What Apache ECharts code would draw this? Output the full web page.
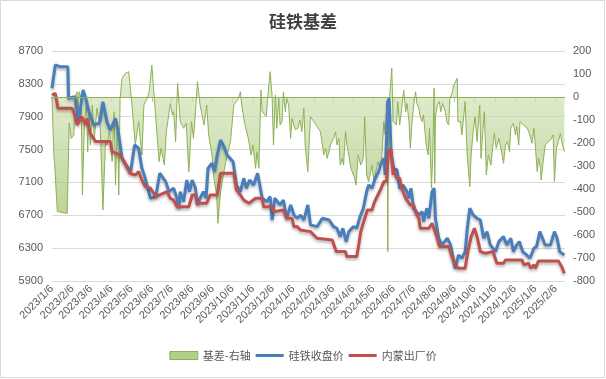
<!DOCTYPE html>
<html><head><meta charset="utf-8">
<script src="https://cdn.jsdelivr.net/npm/echarts@6/dist/echarts.min.js"></script>
<style>html,body{margin:0;padding:0;background:#fff}#c{width:606px;height:379px}</style>
</head><body><div id="c"></div>
<script>
// ---- data ----
const monthTicks = ['2023-01-06','2023-02-06','2023-03-06','2023-04-06','2023-05-06','2023-06-06','2023-07-06','2023-08-06','2023-09-06','2023-10-06','2023-11-06','2023-12-06','2024-01-06','2024-02-06','2024-03-06','2024-04-06','2024-05-06','2024-06-06','2024-07-06','2024-08-06','2024-09-06','2024-10-06','2024-11-06','2024-12-06','2025-01-06','2025-02-06'];

const closeDates = ['2023-01-06','2023-01-11','2023-01-18','2023-01-30','2023-01-31','2023-02-10','2023-02-15','2023-02-22','2023-02-26','2023-03-03','2023-03-10','2023-03-18','2023-03-20','2023-03-24','2023-03-30','2023-04-04','2023-04-12','2023-04-17','2023-04-22','2023-04-28','2023-05-05','2023-05-11','2023-05-17','2023-05-22','2023-05-27','2023-06-04','2023-06-12','2023-06-18','2023-06-27','2023-07-02','2023-07-09','2023-07-14','2023-07-17','2023-07-19','2023-07-24','2023-07-29','2023-08-02','2023-08-06','2023-08-11','2023-08-14','2023-08-18','2023-08-23','2023-08-27','2023-08-30','2023-09-05','2023-09-09','2023-09-13','2023-09-18','2023-09-23','2023-09-28','2023-10-07','2023-10-12','2023-10-18','2023-10-23','2023-10-27','2023-11-01','2023-11-07','2023-11-13','2023-11-20','2023-11-27','2023-12-02','2023-12-05','2023-12-09','2023-12-17','2023-12-22','2023-12-27','2024-01-02','2024-01-07','2024-01-12','2024-01-17','2024-01-22','2024-01-28','2024-02-01','2024-02-11','2024-02-19','2024-02-29','2024-03-07','2024-03-12','2024-03-17','2024-03-21','2024-03-26','2024-03-30','2024-04-06','2024-04-11','2024-04-16','2024-04-21','2024-04-26','2024-04-29','2024-05-04','2024-05-09','2024-05-14','2024-05-17','2024-05-22','2024-05-24','2024-05-28','2024-05-30','2024-06-02','2024-06-06','2024-06-11','2024-06-15','2024-06-20','2024-06-26','2024-06-29','2024-07-02','2024-07-06','2024-07-14','2024-07-19','2024-07-21','2024-07-26','2024-07-29','2024-08-03','2024-08-06','2024-08-08','2024-08-13','2024-08-18','2024-08-26','2024-08-31','2024-09-04','2024-09-07','2024-09-12','2024-09-17','2024-09-22','2024-09-25','2024-09-29','2024-10-04','2024-10-10','2024-10-15','2024-10-20','2024-10-25','2024-10-30','2024-11-07','2024-11-12','2024-11-19','2024-11-24','2024-11-30','2024-12-04','2024-12-09','2024-12-13','2024-12-18','2024-12-24','2024-12-29','2025-01-04','2025-01-08','2025-01-13','2025-01-16','2025-01-21','2025-01-29','2025-02-04','2025-02-08','2025-02-12','2025-02-19'];
const closeVals = [8246,8530,8509,8509,8124,8144,7840,8225,8124,7961,7800,7820,7860,8083,7840,7738,7881,7678,7394,7313,7232,7556,7516,7272,7151,6907,6927,7212,7110,6988,7030,6907,6786,6988,6866,7130,6988,7130,7030,6826,6907,6988,6907,7272,7333,7232,7434,7617,7536,7434,7353,7069,6988,7151,7030,7130,7069,7212,6907,6866,6927,6643,6907,6826,6886,6664,6826,6704,6664,6704,6640,6826,6583,6562,6664,6643,6562,6542,6440,6542,6380,6501,6562,6542,6684,6786,6988,7069,7030,7151,7232,7313,7394,7191,8083,8124,7434,7272,7252,7030,7069,6988,6907,7030,6786,6704,6744,6623,6786,6664,6988,7030,6664,6420,6339,6420,6339,6177,6055,6217,6177,6258,6522,6786,6704,6664,6643,6420,6501,6339,6258,6380,6440,6339,6420,6258,6339,6380,6258,6217,6177,6299,6319,6501,6440,6339,6339,6501,6420,6258,6217];

const exDates = ['2023-01-06','2023-01-11','2023-01-15','2023-02-05','2023-02-08','2023-02-13','2023-02-20','2023-02-26','2023-02-28','2023-03-05','2023-03-13','2023-04-04','2023-04-07','2023-04-19','2023-04-27','2023-05-04','2023-05-12','2023-05-17','2023-05-22','2023-05-27','2023-06-04','2023-06-12','2023-06-29','2023-07-04','2023-07-09','2023-07-14','2023-08-01','2023-08-06','2023-08-11','2023-08-14','2023-08-28','2023-09-02','2023-09-13','2023-09-18','2023-10-08','2023-10-12','2023-10-18','2023-10-23','2023-10-31','2023-11-10','2023-11-20','2023-11-22','2023-12-05','2023-12-07','2023-12-22','2023-12-27','2024-01-04','2024-01-07','2024-01-12','2024-01-17','2024-02-01','2024-02-11','2024-03-05','2024-03-11','2024-03-25','2024-03-27','2024-04-11','2024-04-14','2024-04-17','2024-04-20','2024-04-27','2024-05-04','2024-05-08','2024-05-13','2024-05-18','2024-05-22','2024-05-26','2024-05-29','2024-06-02','2024-06-05','2024-06-07','2024-06-10','2024-06-15','2024-06-18','2024-06-24','2024-07-01','2024-07-06','2024-07-11','2024-07-14','2024-07-16','2024-07-29','2024-08-03','2024-08-06','2024-08-10','2024-08-14','2024-08-28','2024-09-02','2024-09-07','2024-09-12','2024-09-22','2024-09-26','2024-10-01','2024-10-06','2024-10-10','2024-10-15','2024-10-23','2024-11-03','2024-11-09','2024-11-19','2024-11-22','2024-12-17','2024-12-20','2024-12-27','2024-12-30','2025-01-04','2025-01-06','2025-01-11','2025-02-10','2025-02-15','2025-02-19'];
const exVals = [8164,8185,8002,8002,7961,7800,7901,7800,7881,7698,7597,7597,7475,7434,7333,7212,7191,7232,7130,7049,7030,6927,6988,6907,6886,6805,6805,6947,6947,6846,6846,6947,6947,7212,7212,7009,6947,6886,6846,6907,6907,6805,6805,6744,6765,6664,6664,6562,6562,6520,6501,6420,6400,6258,6258,6197,6197,6339,6501,6583,6765,6765,6866,6947,7030,7110,7110,7495,7495,7191,7252,7151,7151,7030,6907,6826,6826,6704,6664,6542,6542,6603,6603,6440,6319,6319,6197,6096,6055,6055,6258,6440,6542,6440,6258,6238,6258,6116,6116,6157,6157,6096,6116,6055,6096,6055,6145,6145,6075,5994];

const basisDates = ['2023-01-06','2023-01-09','2023-01-10','2023-01-14','2023-01-29','2023-02-01','2023-02-04','2023-02-08','2023-02-10','2023-02-13','2023-02-14','2023-02-16','2023-02-19','2023-02-21','2023-02-24','2023-02-27','2023-03-01','2023-03-03','2023-03-05','2023-03-08','2023-03-11','2023-03-15','2023-03-20','2023-03-24','2023-03-28','2023-03-30','2023-04-03','2023-04-07','2023-04-10','2023-04-12','2023-04-15','2023-04-17','2023-04-19','2023-04-22','2023-04-27','2023-05-02','2023-05-07','2023-05-12','2023-05-17','2023-05-22','2023-05-25','2023-05-30','2023-06-02','2023-06-06','2023-06-09','2023-06-17','2023-06-20','2023-06-25','2023-06-28','2023-07-04','2023-07-07','2023-07-09','2023-07-12','2023-07-15','2023-07-19','2023-07-24','2023-07-28','2023-08-01','2023-08-05','2023-08-08','2023-08-10','2023-08-14','2023-08-18','2023-08-21','2023-08-24','2023-08-28','2023-08-31','2023-09-05','2023-09-08','2023-09-12','2023-09-14','2023-09-18','2023-09-23','2023-09-28','2023-10-03','2023-10-08','2023-10-10','2023-10-15','2023-10-18','2023-10-20','2023-10-25','2023-10-30','2023-11-03','2023-11-06','2023-11-10','2023-11-12','2023-11-15','2023-11-18','2023-11-20','2023-11-23','2023-11-26','2023-11-30','2023-12-02','2023-12-05','2023-12-07','2023-12-10','2023-12-12','2023-12-15','2023-12-17','2023-12-20','2023-12-22','2023-12-25','2023-12-27','2023-12-30','2024-01-02','2024-01-04','2024-01-09','2024-01-13','2024-01-16','2024-01-19','2024-01-22','2024-01-24','2024-01-28','2024-02-01','2024-02-06','2024-02-11','2024-02-16','2024-02-19','2024-02-21','2024-02-24','2024-02-26','2024-02-29','2024-03-02','2024-03-07','2024-03-10','2024-03-12','2024-03-15','2024-03-17','2024-03-20','2024-03-22','2024-03-25','2024-03-27','2024-03-30','2024-04-02','2024-04-07','2024-04-10','2024-04-13','2024-04-17','2024-04-21','2024-04-23','2024-04-26','2024-04-29','2024-05-02','2024-05-04','2024-05-07','2024-05-09','2024-05-13','2024-05-16','2024-05-19','2024-05-22','2024-05-24','2024-05-27','2024-05-28','2024-05-29','2024-06-03','2024-06-05','2024-06-07','2024-06-10','2024-06-12','2024-06-15','2024-06-18','2024-06-21','2024-06-24','2024-06-26','2024-06-29','2024-07-01','2024-07-04','2024-07-06','2024-07-09','2024-07-11','2024-07-14','2024-07-16','2024-07-19','2024-07-21','2024-07-25','2024-07-28','2024-07-30','2024-08-02','2024-08-04','2024-08-06','2024-08-07','2024-08-08','2024-08-11','2024-08-14','2024-08-16','2024-08-19','2024-08-23','2024-08-25','2024-08-28','2024-08-30','2024-09-02','2024-09-05','2024-09-07','2024-09-10','2024-09-11','2024-09-15','2024-09-17','2024-09-20','2024-09-22','2024-09-25','2024-09-29','2024-10-01','2024-10-04','2024-10-07','2024-10-10','2024-10-14','2024-10-16','2024-10-19','2024-10-21','2024-10-24','2024-10-27','2024-10-31','2024-11-03','2024-11-05','2024-11-08','2024-11-12','2024-11-14','2024-11-17','2024-11-19','2024-11-22','2024-11-25','2024-11-28','2024-11-30','2024-12-04','2024-12-07','2024-12-09','2024-12-12','2024-12-14','2024-12-17','2024-12-19','2024-12-22','2024-12-25','2024-12-28','2025-01-01','2025-01-04','2025-01-06','2025-01-09','2025-01-11','2025-01-14','2025-01-15','2025-01-18','2025-01-21','2025-01-24','2025-01-29','2025-02-02','2025-02-04','2025-02-07','2025-02-10','2025-02-13','2025-02-15','2025-02-19'];
const basisVals = [0,-267,-288,-498,-506,-114,-180,-165,0,23,-107,23,-6,-426,-122,-20,-238,-49,-209,-35,-180,-49,-136,-491,-194,-209,-151,-281,-64,-383,-107,-426,-6,81,103,110,-35,-209,-107,-252,-35,-6,23,139,23,-281,-223,-296,-151,-28,-78,-64,-194,59,-107,-136,-114,-325,-107,-180,-107,67,-35,-78,-122,-35,-165,-252,-354,-426,-549,-412,-325,-252,-194,-35,-42,-6,23,-35,-122,-180,-252,-209,-310,-238,-310,30,-64,-64,-85,52,110,1,-209,9,-136,-6,-122,-107,23,-64,-6,-35,-180,-93,-143,-136,-100,-151,-49,-209,-325,-86,-107,-129,-151,-209,-252,-223,-267,-238,-209,-180,-151,-209,-180,-296,-267,-296,-151,-209,-252,-310,-346,-383,-252,-296,-267,-86,-339,-368,-325,-296,-368,-339,-281,-310,-252,-107,-165,-20,-672,-64,125,-107,-114,-122,-20,-122,-49,30,-64,-28,-107,-223,-93,-42,23,-28,-49,-86,-107,-78,-209,-252,-136,-397,-252,38,-375,-86,-35,-20,-64,-28,-64,-107,-122,-6,16,52,52,81,-107,-107,-165,-78,-20,-252,-390,-252,-151,-86,-194,-35,-267,-136,-64,-339,-252,-296,-209,-158,-223,-180,-209,-252,-288,-209,-194,-238,-136,-114,-165,-129,-209,-107,-100,-122,-129,-136,-158,-201,-136,-209,-325,-267,-310,-361,-281,-209,-201,-187,-165,-368,-223,-194,-158,-194,-238];

// ---- helpers ----
function ts(s){const p=s.split('-').map(Number);return new Date(p[0],p[1]-1,p[2]).getTime();}
function pairs(ds,vs){return ds.map((d,i)=>[ts(d),vs[i]]);}
const tickTs = monthTicks.map(ts);
const FONT = '"Liberation Sans","Noto Sans CJK SC",sans-serif';
const LINE_ICON = 'path://M0,0L0.01,0L0,0.01Z M0,2.6H28V5.4H0Z M27.99,8L28,8L28,7.99Z';

const chart = echarts.init(document.getElementById('c'));
chart.setOption({
  animation:false,
  backgroundColor:'#fff',
  title:{text:'硅铁基差',left:'center',top:8,textStyle:{fontSize:17,fontWeight:'bold',color:'#404040',fontFamily:'"Noto Sans CJK SC",sans-serif'}},
  graphic:[{type:'rect',shape:{x:0.5,y:0.5,width:604,height:377},style:{fill:'none',stroke:'#d9d9d9',lineWidth:1},silent:true}],
  legend:{
    bottom:13,left:'center',itemWidth:28,itemHeight:8,itemGap:5,
    textStyle:{fontSize:11,color:'#595959',fontFamily:'"Noto Sans CJK SC",sans-serif'},
    data:[
      {name:'基差-右轴',icon:'rect',itemStyle:{color:'#b3cf85',borderColor:'#8db255',borderWidth:1}},
      {name:'硅铁收盘价',icon:LINE_ICON,itemStyle:{color:'#4a7ebb',borderWidth:0}},
      {name:'内蒙出厂价',icon:LINE_ICON,itemStyle:{color:'#c0504d',borderWidth:0}}
    ]
  },
  grid:{left:52,right:41,top:51,bottom:98},
  xAxis:{
    type:'value',min:ts('2023-01-06'),max:ts('2025-02-20'),
    axisLine:{lineStyle:{color:'#bfbfbf'}},
    axisTick:{show:true,customValues:tickTs,length:5,lineStyle:{color:'#bfbfbf'}},
    axisLabel:{customValues:tickTs,rotate:45,fontSize:11,color:'#595959',margin:6,fontFamily:FONT,
      formatter:function(v){const d=new Date(v);return d.getFullYear()+'/'+(d.getMonth()+1)+'/'+d.getDate();}},
    splitLine:{show:false}
  },
  yAxis:[
    {type:'value',min:5900,max:8700,interval:400,
      axisLine:{show:false},axisTick:{show:false},
      axisLabel:{fontSize:11,color:'#595959',margin:9,fontFamily:FONT,formatter:function(v){return String(v);}},
      splitLine:{lineStyle:{color:'#d9d9d9'}}},
    {type:'value',min:-800,max:200,interval:100,position:'right',
      axisLine:{show:false},axisTick:{show:false},
      axisLabel:{fontSize:11,color:'#595959',margin:8,fontFamily:FONT,formatter:function(v){return String(v);}},
      splitLine:{show:false}}
  ],
  series:[
    {name:'基差-右轴',type:'line',yAxisIndex:1,data:pairs(basisDates,basisVals),
      symbol:'none',lineStyle:{color:'#8db255',width:1},itemStyle:{color:'#9bbb59'},
      areaStyle:{origin:0,color:new echarts.graphic.LinearGradient(0,0,0,1,[
        {offset:0,color:'#dbe8c7'},{offset:0.35,color:'#c5daa3'},{offset:1,color:'#8fb552'}])},
      markLine:{silent:true,symbol:'none',label:{show:false},animation:false,
        lineStyle:{color:'#8db255',width:1,type:'solid'},data:[{yAxis:0}]},
      z:1},
    {name:'硅铁收盘价',type:'line',yAxisIndex:0,data:pairs(closeDates,closeVals),
      symbol:'none',lineStyle:{color:'#4a7ebb',width:3,shadowBlur:3,shadowColor:'rgba(0,0,0,0.3)',shadowOffsetY:2},
      itemStyle:{color:'#4a7ebb'},z:3},
    {name:'内蒙出厂价',type:'line',yAxisIndex:0,data:pairs(exDates,exVals),
      symbol:'none',lineStyle:{color:'#c0504d',width:3,shadowBlur:3,shadowColor:'rgba(0,0,0,0.3)',shadowOffsetY:2},
      itemStyle:{color:'#c0504d'},z:4}
  ]
});
</script></body></html>
